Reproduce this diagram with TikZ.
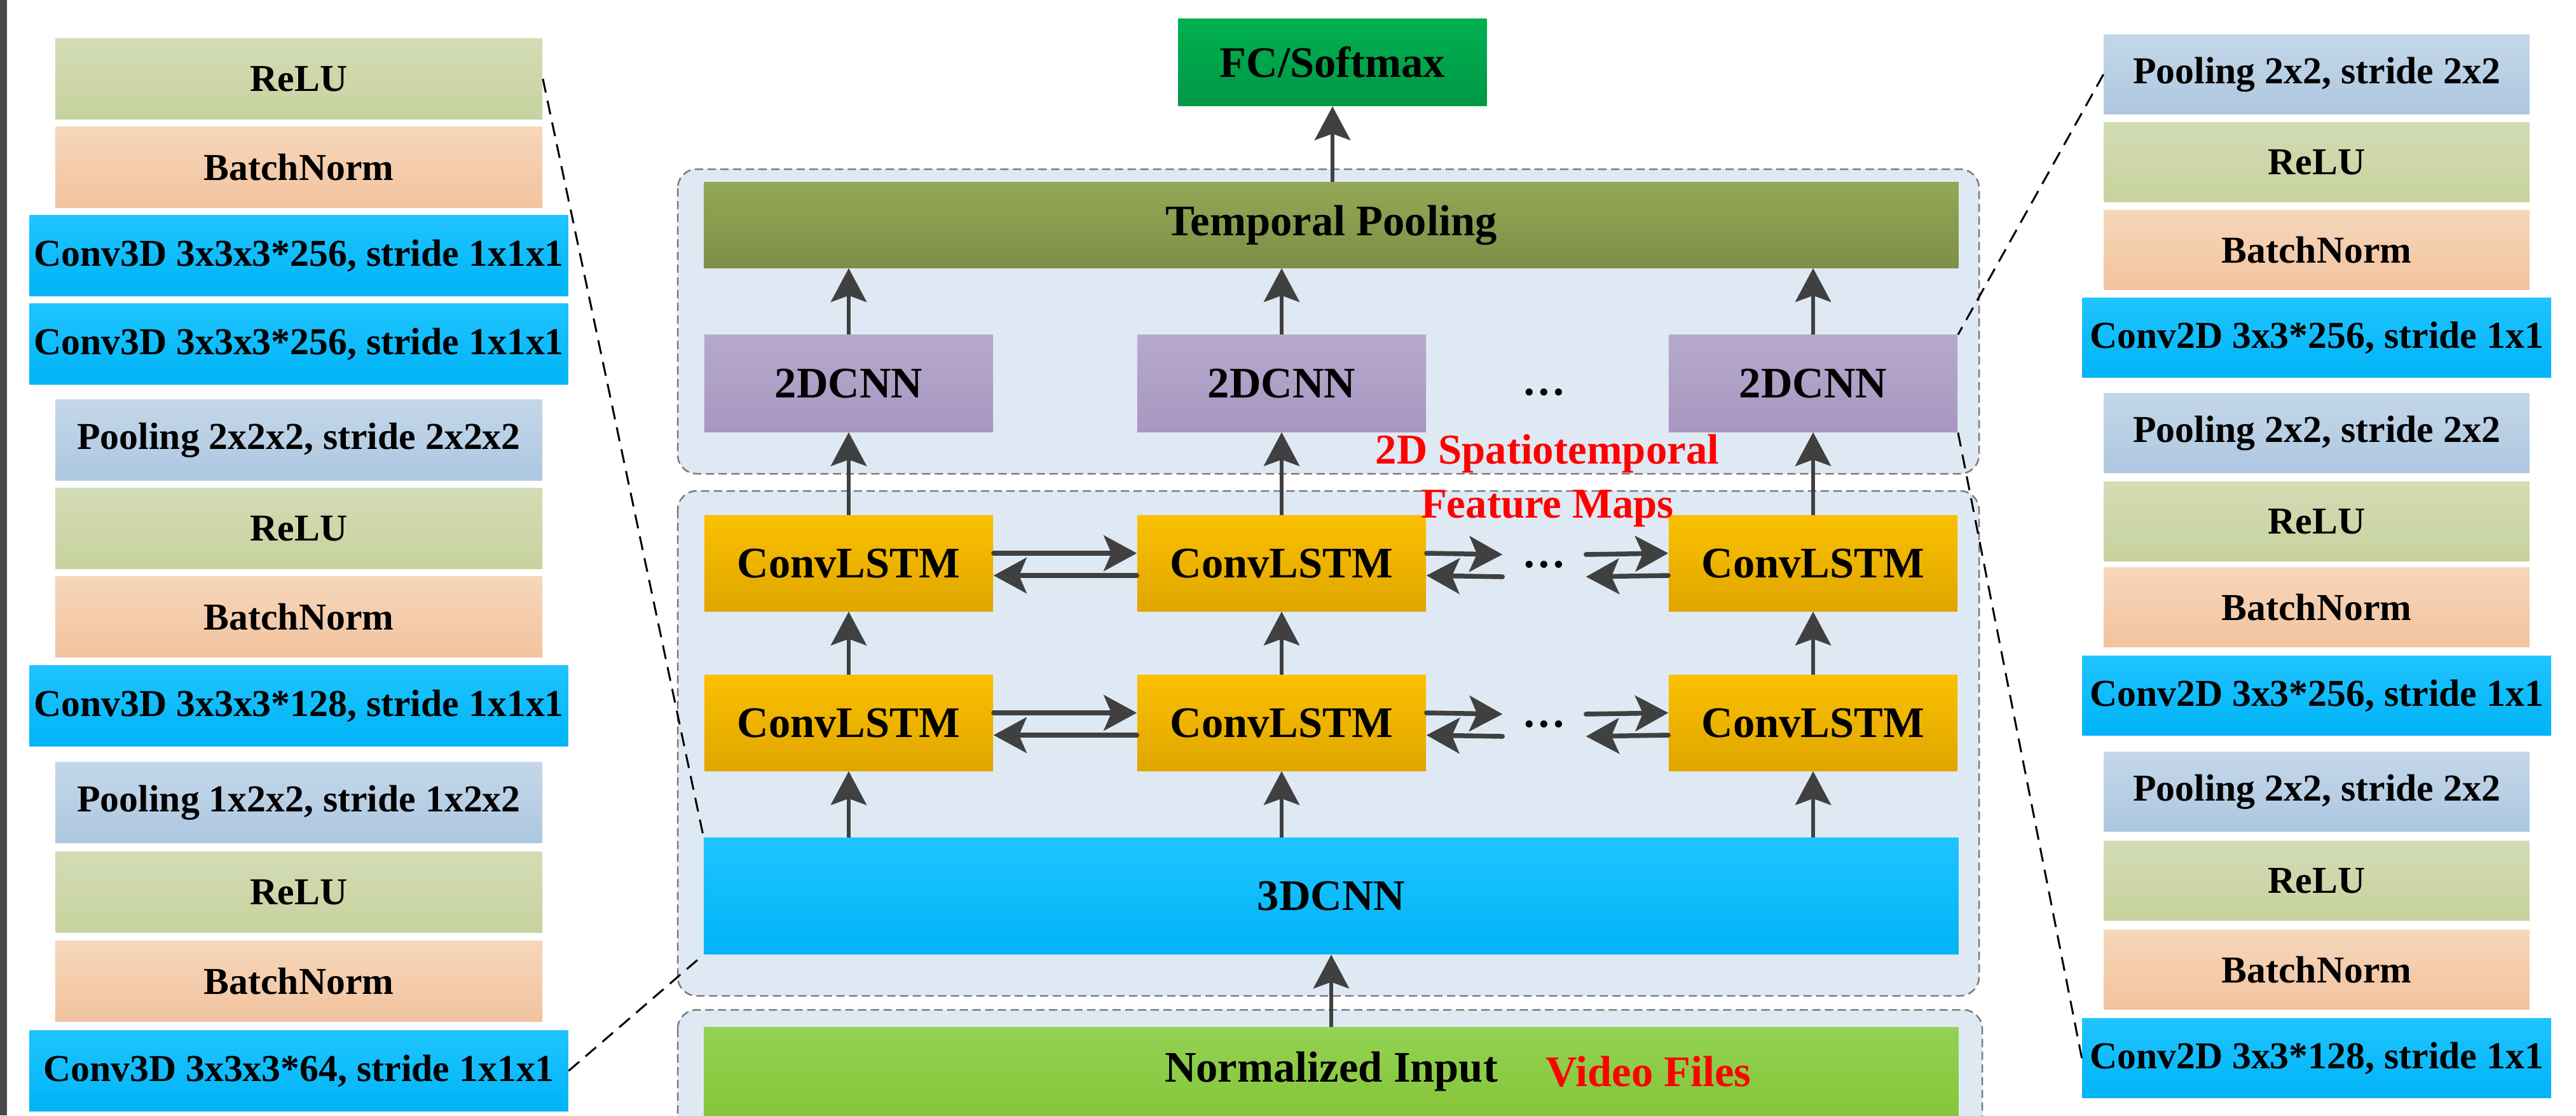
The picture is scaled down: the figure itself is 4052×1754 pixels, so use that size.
\documentclass[tikz,border=0pt]{standalone}
\usepackage{fontspec}
\setmainfont{Liberation Serif}
\usetikzlibrary{arrows.meta}

\definecolor{reluT}{HTML}{D3DCB4}
\definecolor{reluB}{HTML}{C7D29F}
\definecolor{bnT}{HTML}{F6D6BA}
\definecolor{bnB}{HTML}{F2C39F}
\definecolor{convT}{HTML}{1FC4FF}
\definecolor{convB}{HTML}{00B4F6}
\definecolor{poolT}{HTML}{C4D7E9}
\definecolor{poolB}{HTML}{ADC7E0}
\definecolor{fcT}{HTML}{00B050}
\definecolor{fcB}{HTML}{009845}
\definecolor{tpT}{HTML}{94A855}
\definecolor{tpB}{HTML}{7E8E47}
\definecolor{cnnT}{HTML}{B6A9CC}
\definecolor{cnnB}{HTML}{A897C1}
\definecolor{lstmT}{HTML}{FBC000}
\definecolor{lstmB}{HTML}{DFA600}
\definecolor{inT}{HTML}{93D252}
\definecolor{inB}{HTML}{86C53A}
\definecolor{panelc}{HTML}{DFE9F3}
\definecolor{panelb}{HTML}{7A7A7A}
\definecolor{arrc}{HTML}{404040}
\definecolor{stripc}{HTML}{4A4A4D}

\tikzset{
  blk/.style={inner sep=0pt, font=\bfseries\fontsize{17}{20}\selectfont},
  big/.style={inner sep=0pt, font=\bfseries\fontsize{19.5}{23}\selectfont},
  relu/.style={top color=reluT, bottom color=reluB},
  bnorm/.style={top color=bnT, bottom color=bnB},
  conv/.style={top color=convT, bottom color=convB},
  pool/.style={top color=poolT, bottom color=poolB},
  lstm/.style={top color=lstmT, bottom color=lstmB},
  cnn/.style={top color=cnnT, bottom color=cnnB},
  lthin/.style={blk, minimum width=7.66cm, minimum height=1.26cm},
  lfat/.style={blk, minimum width=8.47cm, minimum height=1.26cm},
  rthin/.style={blk, minimum width=6.69cm, minimum height=1.24cm},
  rfat/.style={blk, minimum width=7.37cm, minimum height=1.24cm},
  cell/.style={big, minimum width=4.54cm, minimum height=1.5cm},
  bar/.style={big, minimum width=19.72cm},
  panel/.style={fill=panelc, draw=panelb, line width=0.025cm, dash pattern=on 0.13cm off 0.07cm, rounded corners=0.3cm},
  flow/.style={draw=arrc, line width=0.065cm, -{Stealth[length=0.53cm, width=0.56cm, inset=0.1cm]}},
  recur/.style={draw=arrc, line width=0.075cm, line cap=round, -{Stealth[length=0.52cm, width=0.56cm, inset=0.12cm]}},
  callout/.style={draw=black, line width=0.03cm, dash pattern=on 0.22cm off 0.13cm},
  note/.style={text=red, inner sep=0pt, align=center, font=\bfseries\fontsize{19}{24}\selectfont},
  gap/.style={inner sep=0pt, minimum width=1.3cm, font=\bfseries\fontsize{19.5}{23}\selectfont}
}

\begin{document}
\begin{tikzpicture}[x=0.01cm, y=-0.01cm]
\path[use as bounding box, clip] (0,0) rectangle (4052,1754);
\fill[white] (0,0) rectangle (4052,1754);
\fill[stripc] (0,0) rectangle (11,1754);

% dashed panels behind the network
\path[panel] (1066,266) rectangle (3113,745);
\path[panel] (1066,772) rectangle (3113,1566);
\path[panel] (1066,1588) rectangle (3118,1840);

% 3D conv stack (left)
\foreach \k/\w/\y/\t [count=\i] in {relu/lthin/124/ReLU, bnorm/lthin/263/BatchNorm,
  conv/lfat/402/{Conv3D 3x3x3*256, stride 1x1x1}, conv/lfat/541/{Conv3D 3x3x3*256, stride 1x1x1},
  pool/lthin/692/{Pooling 2x2x2, stride 2x2x2}, relu/lthin/831/ReLU, bnorm/lthin/970/BatchNorm,
  conv/lfat/1110/{Conv3D 3x3x3*128, stride 1x1x1}, pool/lthin/1262/{Pooling 1x2x2, stride 1x2x2},
  relu/lthin/1403/ReLU, bnorm/lthin/1543/BatchNorm, conv/lfat/1684/{Conv3D 3x3x3*64, stride 1x1x1}}
{
	\node[\k, \w] (L\i) at (470,\y) {\t};
}

% 2D conv stack (right)
\foreach \k/\w/\y/\t [count=\i] in {pool/rthin/117/{Pooling 2x2, stride 2x2}, relu/rthin/255/ReLU,
  bnorm/rthin/393/BatchNorm, conv/rfat/531/{Conv2D 3x3*256, stride 1x1},
  pool/rthin/681/{Pooling 2x2, stride 2x2}, relu/rthin/820/ReLU, bnorm/rthin/955/BatchNorm,
  conv/rfat/1094/{Conv2D 3x3*256, stride 1x1}, pool/rthin/1245/{Pooling 2x2, stride 2x2},
  relu/rthin/1385/ReLU, bnorm/rthin/1525/BatchNorm, conv/rfat/1664/{Conv2D 3x3*128, stride 1x1}}
{
	\node[\k, \w] (R\i) at (3644,\y) {\t};
}

% main network
\node[big, top color=fcT, bottom color=fcB, minimum width=4.85cm, minimum height=1.37cm] (fc) at (2096,98) {FC/Softmax};
\node[bar, top color=tpT, bottom color=tpB, minimum height=1.34cm] (tpool) at (2094,354) {Temporal Pooling};
\node[bar, conv, minimum height=1.83cm] (cnn3) at (2094,1409) {3DCNN};
\node[bar, top color=inT, bottom color=inB, minimum height=1.39cm] (input) at (2094,1685) {Normalized Input};
\node[big, text=red] (video) at (2593,1685) {Video Files};

\foreach \x [count=\i] in {1335,2016,2852}
{
	\node[cell, lstm] (a\i) at (\x,1137) {ConvLSTM};
	\node[cell, lstm] (b\i) at (\x,886) {ConvLSTM};
	\node[cell, cnn, minimum height=1.52cm] (c\i) at (\x,603) {2DCNN};
}
\node[gap] (da) at (2429,1139) {…};
\node[gap] (db) at (2429,888) {…};
\node[gap] (dc) at (2429,617) {…};
\node[note] (fmap) at (2434,756) {2D Spatiotemporal\\Feature Maps};

% vertical data flow
\draw[flow] (input) -- (cnn3);
\foreach \i in {1,2,3}
{
	\draw[flow] (cnn3.north -| a\i) -- (a\i);
	\draw[flow] (a\i) -- (b\i);
	\draw[flow] (b\i) -- (c\i);
	\draw[flow] (c\i) -- (c\i |- tpool.south);
}
\draw[flow] (tpool.north -| fc) -- (fc);

% recurrent links between time steps
\foreach \r/\d in {a/da, b/db}
{
	\draw[recur] ([yshift=1.6mm]\r1.east) -- ([yshift=1.6mm]\r2.west);
	\draw[recur] ([yshift=-1.9mm]\r2.west) -- ([yshift=-1.9mm]\r1.east);
	\draw[recur] ([yshift=1.6mm]\r2.east) -- ([yshift=1.6mm]\d.west);
	\draw[recur] ([yshift=-1.9mm]\d.west) -- ([yshift=-1.9mm]\r2.east);
	\draw[recur] ([yshift=1.6mm]\d.east) -- ([yshift=1.6mm]\r3.west);
	\draw[recur] ([yshift=-1.9mm]\r3.west) -- ([yshift=-1.9mm]\d.east);
}

% zoom-in lines to the layer stacks
\draw[callout] (L1.east) -- (cnn3.north west);
\draw[callout] (L12.east) -- (cnn3.south west);
\draw[callout] (R1.west) -- (c3.north east);
\draw[callout] (R12.west) -- (c3.south east);
\end{tikzpicture}
\end{document}
